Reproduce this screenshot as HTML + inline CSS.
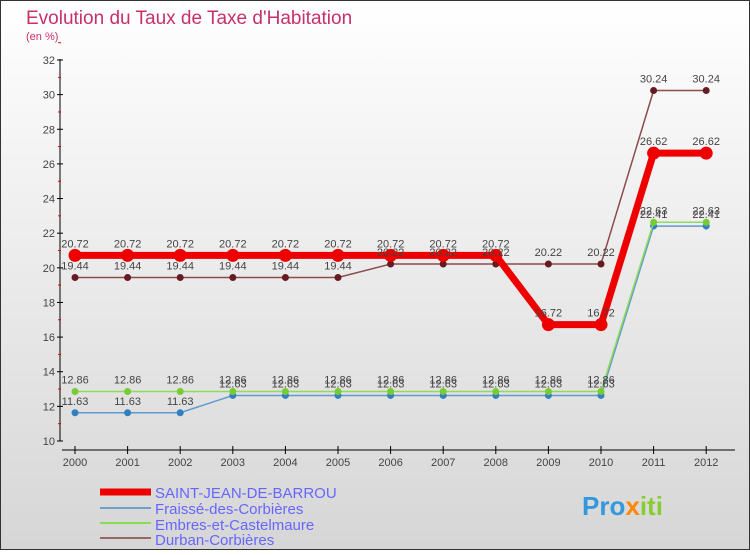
<!DOCTYPE html>
<html><head><meta charset="utf-8"><style>
body{margin:0;}
#c{width:750px;height:550px;position:relative;font-family:"Liberation Sans",sans-serif;}
</style></head><body>
<div id="c">
<svg id="s" width="750" height="550" xmlns="http://www.w3.org/2000/svg">
<defs><linearGradient id="bg" x1="0" y1="0" x2="0" y2="1"><stop offset="0" stop-color="#ffffff"/><stop offset="1" stop-color="#d6d6d6"/></linearGradient></defs>
<rect x="0.5" y="0.5" width="749" height="549" fill="url(#bg)" stroke="#333"/>
<text x="26" y="24" font-size="19" fill="#c8306a">Evolution du Taux de Taxe d'Habitation</text>
<text x="26" y="40" font-size="11" fill="#c8306a">(en %)</text>
<g id="axes"></g><g id="series"></g><g id="labels"></g>
<g id="legend">
<line x1="100" y1="492" x2="151" y2="492" stroke="#ee0000" stroke-width="7"/>
<text x="155" y="498" font-size="15" fill="#6666ff">SAINT-JEAN-DE-BARROU</text>
<line x1="100" y1="508" x2="151" y2="508" stroke="#6aa0cc" stroke-width="2"/>
<text x="155" y="514" font-size="15" fill="#6666ff">Fraissé-des-Corbières</text>
<line x1="100" y1="523" x2="151" y2="523" stroke="#88dd55" stroke-width="2"/>
<text x="155" y="530" font-size="15" fill="#6666ff">Embres-et-Castelmaure</text>
<line x1="100" y1="538" x2="151" y2="538" stroke="#996666" stroke-width="2"/>
<text x="155" y="545" font-size="15" fill="#6666ff">Durban-Corbières</text>
</g>
<text x="582" y="515" font-size="26" font-weight="bold"><tspan fill="#3399dd">Pro</tspan><tspan fill="#ff8800">x</tspan><tspan fill="#88cc33">iti</tspan></text>
</svg>
</div>
<script>
const years=[2000,2001,2002,2003,2004,2005,2006,2007,2008,2009,2010,2011,2012];
const yTicks=[10,12,14,16,18,20,22,24,26,28,30,32];
const sjb=[20.72,20.72,20.72,20.72,20.72,20.72,20.72,20.72,20.72,16.72,16.72,26.62,26.62];
const fraisse=[11.63,11.63,11.63,12.63,12.63,12.63,12.63,12.63,12.63,12.63,12.63,22.41,22.41];
const embres=[12.86,12.86,12.86,12.86,12.86,12.86,12.86,12.86,12.86,12.86,12.86,22.63,22.63];
const durban=[19.44,19.44,19.44,19.44,19.44,19.44,20.22,20.22,20.22,20.22,20.22,30.24,30.24];
const NS="http://www.w3.org/2000/svg";
const X=i=>75+i*52.6;
const Y=v=>441-(v-10)*(381/22);
function mk(tag,attrs,parent){const e=document.createElementNS(NS,tag);for(const k in attrs)e.setAttribute(k,attrs[k]);document.getElementById(parent).appendChild(e);return e;}
let e=mk('line',{x1:60,y1:59,x2:60,y2:441,stroke:'#000'},'axes');


e=mk('line',{x1:62,y1:450,x2:735,y2:450,stroke:'#000'},'axes');


yTicks.forEach(v=>{
 mk('line',{x1:57,y1:Y(v),x2:63,y2:Y(v),stroke:'#000'},'axes');
 mk('line',{x1:58,y1:Y(v+1),x2:61,y2:Y(v+1),stroke:'#e00'},'axes');
 const t=mk('text',{x:55,y:Y(v)+4,'font-size':11,fill:'#444','text-anchor':'end'},'axes');
 t.textContent=v;
 
 
});
years.forEach((yr,i)=>{
 mk('line',{x1:X(i),y1:446,x2:X(i),y2:454,stroke:'#000'},'axes');
 const t=mk('text',{x:X(i),y:466,'font-size':11,fill:'#444','text-anchor':'middle'},'axes');
 t.textContent=yr;
 
 
});
function series(data,color,w,r,dot,name){
 const p=mk('polyline',{points:data.map((v,i)=>X(i)+','+Y(v)).join(' '),fill:'none',stroke:color,'stroke-width':w},'series');
 
 
 data.forEach((v,i)=>{
  const c=mk('circle',{cx:X(i),cy:Y(v),r:r,fill:dot},'series');
  
  
  const t=mk('text',{x:X(i),y:Y(v)-8,'font-size':11,fill:'#444','text-anchor':'middle'},'labels');
  t.textContent=v.toFixed(2);
  
  
 });
}
series(durban,'#8b4b4b',1.5,3.5,'#661a22','durban');
series(fraisse,'#5f9acc',1.5,3.5,'#3380c0','fraisse');
series(embres,'#8fdc5c',1.5,3.5,'#77cc33','embres');
series(sjb,'#ee0000',7,6.5,'#ee0000','saint-jean');
</script>
</body></html>
